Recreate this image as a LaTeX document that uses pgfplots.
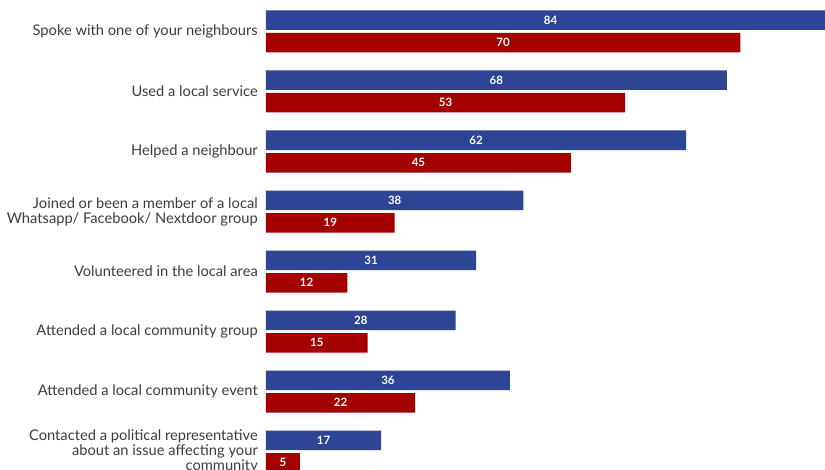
\documentclass[border=0pt]{standalone}
\usepackage{fontspec}
\setmainfont{Lato}
\usepackage{pgfplots}
\usepackage{pgfplotstable}
\pgfplotsset{compat=1.18}

\definecolor{barblue}{RGB}{46,68,148}
\definecolor{barred}{RGB}{164,0,0}
\definecolor{labelgrey}{RGB}{60,60,60}

% idx runs from the bottom row (0) to the top row (7)
\pgfplotstableread{
idx blue red
7 84 70
6 68 53
5 62 45
4 38 19
3 31 12
2 28 15
1 36 22
0 17 5
}\activities

\begin{document}
\begin{tikzpicture}
\begin{axis}[
  at={(266pt,0pt)}, anchor=south west,
  scale only axis,
  width=559pt, height=470pt,
  xmin=0, xmax=82.5,
  ymin=-0.308, ymax=7.525,
  axis line style={draw=none},
  xtick=\empty,
  ytick={0,...,7},
  ytick style={draw=none},
  major tick length=0pt,
  yticklabels={
    {Contacted a political representative\\about an issue affecting your\\community},
    {Attended a local community event},
    {Attended a local community group},
    {Volunteered in the local area},
    {Joined or been a member of a local\\Whatsapp/ Facebook/ Nextdoor group},
    {Helped a neighbour},
    {Used a local service},
    {Spoke with one of your neighbours}},
  yticklabel style={align=right, text=labelgrey, inner sep=0pt,
    xshift=-8pt, font=\fontsize{14.7}{15}\selectfont},
  bar width=19.5pt,
  nodes near coords style={anchor=center, text=white,
    font=\fontsize{11.5}{13}\bfseries\selectfont},
]
\addplot[xbar, fill=barblue, draw=none, bar shift=11.25pt]
  table[x=blue, y=idx] {\activities};
\addplot[xbar, fill=barred, draw=none, bar shift=-11.25pt]
  table[x=red, y=idx] {\activities};
% value labels sit at the middle of each bar
\addplot[xbar, draw=none, fill=none, bar shift=11.25pt,
  nodes near coords, point meta=explicit symbolic,
  nodes near coords style={yshift=11.25pt}]
  table[x expr=\thisrow{blue}/2, y=idx, meta=blue] {\activities};
\addplot[xbar, draw=none, fill=none, bar shift=-11.25pt,
  nodes near coords, point meta=explicit symbolic,
  nodes near coords style={yshift=-11.25pt}]
  table[x expr=\thisrow{red}/2, y=idx, meta=red] {\activities};
\end{axis}
\pgfresetboundingbox
\useasboundingbox (0pt,0pt) rectangle (825pt,470pt);
\end{tikzpicture}
\end{document}
